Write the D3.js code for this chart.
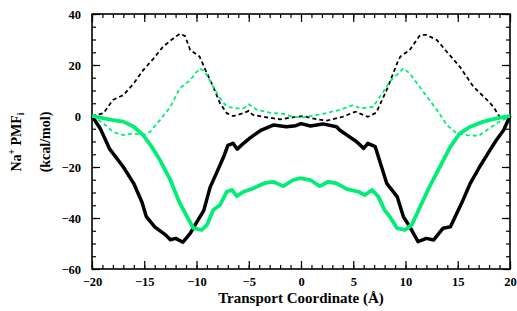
<!DOCTYPE html>
<html>
<head>
<meta charset="utf-8">
<script src="https://cdn.jsdelivr.net/npm/d3@7"></script>
<style>
  body { margin: 0; background: #fff; }
  svg text { font-family: "Liberation Serif", "Times New Roman", "DejaVu Serif", serif !important; font-weight: bold; }
</style>
</head>
<body>
<svg width="517" height="311"></svg>
<script>
// DATA  [transport coordinate (A), PMF (kcal/mol)]
var blackSolid = [
  [-20,0],[-19.2,-5],[-18.3,-13],[-17,-20],[-16,-26.5],[-15.2,-34],[-14.8,-39.5],[-14,-43.5],
  [-13,-46.5],[-12.5,-48.5],[-12,-48],[-11.3,-49.5],[-10.6,-46],[-10.1,-42.5],[-9.3,-37],
  [-8.7,-28],[-8.1,-22.5],[-7.4,-16],[-7,-11.5],[-6.5,-10.7],[-6.1,-13],[-5.5,-10.7],
  [-4.9,-8.7],[-4.5,-7.5],[-3.8,-5.5],[-2.6,-3.5],[-1.4,-4.2],[-0.5,-3.8],[0,-3],[0.9,-3.9],
  [2.1,-3.1],[3.4,-4.2],[3.7,-5.5],[4.4,-7.5],[5.3,-10],[6,-12.7],[6.4,-10.7],[7.1,-12],
  [7.6,-18.5],[8.2,-26.4],[9.2,-31.6],[9.8,-39.5],[10.4,-43.4],[11.2,-49.3],[12,-48],
  [12.7,-48.6],[13.6,-44],[14.3,-43.4],[14.9,-38.2],[15.5,-33],[16.2,-26.4],[17.1,-19.9],
  [18.1,-13.3],[18.7,-9.4],[19.4,-5.5],[20,0]
];
var greenSolid = [
  [-20,0],[-18,-1.6],[-17,-2.2],[-16,-4.2],[-15.1,-7.5],[-14.3,-12],[-13.5,-17.3],
  [-12.5,-25.1],[-11.6,-34.2],[-10.9,-39.5],[-10.3,-44],[-9.5,-44.7],[-9,-42.7],
  [-8.4,-36.9],[-7.75,-34.9],[-7.1,-29.7],[-6.6,-29],[-6.15,-31.4],[-5.5,-29.7],
  [-4.6,-28.4],[-3.4,-26.2],[-2.65,-25.8],[-1.7,-27.5],[-0.75,-25.1],[-0.1,-24.4],
  [0.9,-25.1],[1.8,-27.5],[2.6,-25.8],[3.4,-26.4],[4.4,-28.7],[5.5,-29.7],[6.1,-31],
  [6.8,-29],[7.4,-31.6],[8,-36.9],[8.5,-39.5],[9.2,-44],[9.95,-44.7],[10.6,-42.7],
  [11.4,-35.6],[12.3,-27.7],[13.3,-19.9],[14.3,-12],[15.2,-6.8],[16.2,-4.2],
  [17.45,-2.2],[18.7,-0.9],[20,0]
];
var blackDashed = [
  [-20,0],[-18.9,1.1],[-18,6.3],[-17,8.2],[-16,12.8],[-15.1,18],[-14.1,22.6],[-13.2,27.2],
  [-12.2,30.5],[-11.6,32.2],[-11.1,31.4],[-10.6,25.9],[-9.7,23.3],[-9,16.7],[-8.4,11.5],
  [-7.75,5],[-7.1,1.1],[-6.5,0],[-5.5,1.1],[-5,2],[-4.6,0.4],[-3.3,-0.5],[-2,-1.3],
  [-0.75,-0.5],[0.2,0],[1.5,-1.3],[2.5,-1.8],[4,-0.3],[5.2,1.7],[6.4,-0.3],[7.2,1.3],
  [8.2,10.2],[9.2,20.7],[9.5,23.3],[10.4,25.9],[11.4,31.8],[12,31.8],[13,29.8],[13.95,25.2],
  [15.2,19.3],[16.5,11.5],[17.8,6.3],[18.4,3.7],[19,-0.3],[20,0]
];
var greenDashed = [
  [-20,0],[-18.9,-2.9],[-18,-6.2],[-17,-7.5],[-16,-6.8],[-15.1,-7.5],[-14.45,-6.2],
  [-13.5,-1.6],[-12.5,3.6],[-11.6,10.9],[-10.6,14.1],[-9.7,18.7],[-9.2,17.4],[-8.4,11.5],
  [-7.75,6.9],[-7.1,3.6],[-6.15,3],[-5.5,3],[-5,4.6],[-4.2,2.4],[-3,1.3],[-1.7,0.8],
  [-0.75,-0.3],[0.2,-0.5],[2.1,0.8],[3.7,2.4],[5,4.3],[5.65,3],[6.9,3.6],[7.56,7.6],
  [8.5,13.5],[9.8,18.7],[10.4,16.7],[11.7,9.5],[13,2.4],[13.95,-3.5],[14.9,-6.8],
  [15.9,-7.5],[17,-7.8],[17.8,-5.5],[18.7,-2.9],[20,0]
];
var xDomain = [-20, 20];
var yDomain = [-60, 40];
var xTickValues = [-20, -15, -10, -5, 0, 5, 10, 15, 20];
var yTickValues = [-60, -40, -20, 0, 20, 40];
var xLabel = 'Transport Coordinate (\u00C5)';
var yLabel2 = '(kcal/mol)';

var green = '#00ee76';
var margin = {top: 14, right: 7, bottom: 42, left: 92};
var svg = d3.select('svg');
var width = 517 - margin.left - margin.right,
    height = 311 - margin.top - margin.bottom;

var x = d3.scaleLinear().domain(xDomain).range([0, width]);
var y = d3.scaleLinear().domain(yDomain).range([height, 0]);

var g = svg.append('g').attr('transform', 'translate(' + margin.left + ',' + margin.top + ')');

var minorX = d3.range(-20, 21, 1), minorY = d3.range(-60, 41, 5);
var fmt = function(d) { return d < 0 ? '\u2212' + Math.abs(d) : d; };

// ticks pointing inward on all four sides
g.append('g').attr('transform', 'translate(0,' + height + ')')
  .call(d3.axisBottom(x).tickValues(minorX).tickSize(-4).tickFormat(''));
g.append('g').attr('transform', 'translate(0,' + height + ')')
  .call(d3.axisBottom(x).tickValues(xTickValues).tickSize(-8).tickPadding(8).tickFormat(fmt));
g.append('g').call(d3.axisTop(x).tickValues(minorX).tickSize(-4).tickFormat(''));
g.append('g').call(d3.axisTop(x).tickValues(xTickValues).tickSize(-8).tickFormat(''));
g.append('g').call(d3.axisLeft(y).tickValues(minorY).tickSize(-4).tickFormat(''));
g.append('g').call(d3.axisLeft(y).tickValues(yTickValues).tickSize(-8).tickPadding(11).tickFormat(fmt));
g.append('g').attr('transform', 'translate(' + width + ',0)')
  .call(d3.axisRight(y).tickValues(minorY).tickSize(-4).tickFormat(''));
g.append('g').attr('transform', 'translate(' + width + ',0)')
  .call(d3.axisRight(y).tickValues(yTickValues).tickSize(-8).tickFormat(''));

g.selectAll('.domain').remove();
g.selectAll('.tick line').attr('stroke', '#000').attr('stroke-width', 1.2);
g.selectAll('.tick text').attr('fill', '#000').style('font-size', '12.5px');

g.append('rect').attr('width', width).attr('height', height)
  .attr('fill', 'none').attr('stroke', '#000').attr('stroke-width', 1.6);

var line = d3.line().x(d => x(d[0])).y(d => y(d[1]));

g.append('path').datum(blackDashed).attr('d', line)
  .attr('fill', 'none').attr('stroke', '#000').attr('stroke-width', 1.8).attr('stroke-dasharray', '4,3');
g.append('path').datum(greenDashed).attr('d', line)
  .attr('fill', 'none').attr('stroke', green).attr('stroke-width', 1.8).attr('stroke-dasharray', '4,3');
g.append('path').datum(blackSolid).attr('d', line)
  .attr('fill', 'none').attr('stroke', '#000').attr('stroke-width', 3.5).attr('stroke-linejoin', 'round');
g.append('path').datum(greenSolid).attr('d', line)
  .attr('fill', 'none').attr('stroke', green).attr('stroke-width', 3.8).attr('stroke-linejoin', 'round');

// axis titles
svg.append('text').attr('x', margin.left + width / 2).attr('y', 302.5)
  .attr('text-anchor', 'middle').attr('font-size', 15).text(xLabel);

var yl = svg.append('text').attr('transform', 'translate(21,142) rotate(-90)')
  .attr('text-anchor', 'middle').attr('font-size', 14);
yl.append('tspan').text('Na');
yl.append('tspan').attr('font-size', 9.5).attr('dy', -6).text('+');
yl.append('tspan').attr('dy', 6).text(' PMF');
yl.append('tspan').attr('font-size', 9.5).attr('dy', 3).text('i');

svg.append('text').attr('transform', 'translate(50,142) rotate(-90)')
  .attr('text-anchor', 'middle').attr('font-size', 14).text(yLabel2);
</script>
</body>
</html>
